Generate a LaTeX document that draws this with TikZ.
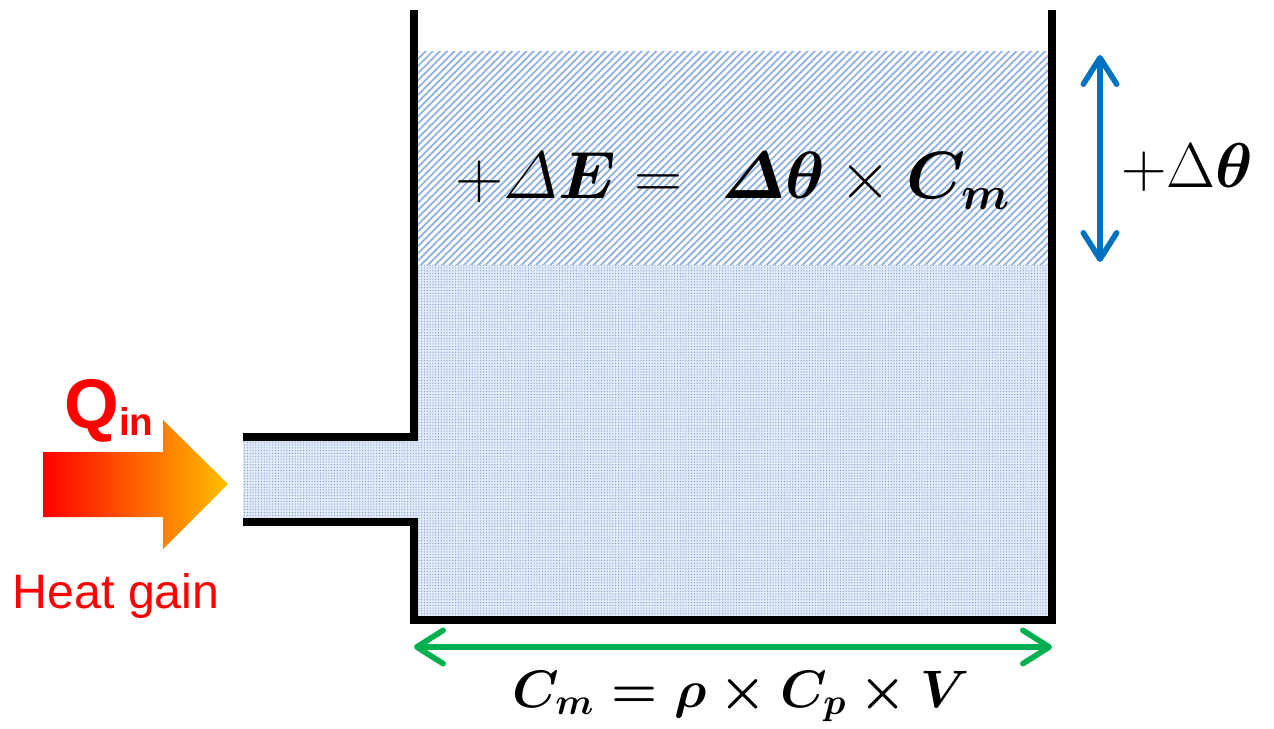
\RequirePackage{fix-cm}
\documentclass[tikz,border=0pt]{standalone}
\usepackage{amsmath}
\usepackage{fontspec}
\newfontfamily\arialfont{Liberation Sans}
\usetikzlibrary{arrows.meta,patterns.meta}
\definecolor{hatchblue}{RGB}{140,176,224}
\definecolor{dotblue}{RGB}{110,150,215}
\definecolor{paleblue}{RGB}{226,234,247}
\definecolor{arrowblue}{RGB}{0,112,192}
\definecolor{arrowgreen}{RGB}{0,176,80}
\definecolor{heatorange}{RGB}{255,192,0}
\definecolor{heatred}{RGB}{255,0,0}
\tikzset{
  wall/.style={line width=4.8pt, black, line join=miter},
  hatchwater/.style={pattern={Lines[angle=45,distance=2.9pt,line width=1pt]}, pattern color=hatchblue},
  dotwater/.style={pattern={Dots[distance=1.6pt,radius=0.35pt]}, pattern color=dotblue},
  dimarrow/.style={line width=3.2pt, {Straight Barb[length=15pt,width=19pt,round]}-{Straight Barb[length=15pt,width=19pt,round]}},
  heattext/.style={text=heatred, font=\arialfont},
}
\begin{document}
\begin{tikzpicture}[x=0.02cm,y=-0.02cm]
\useasboundingbox (0,0) rectangle (1274,729);
% water regions
\fill[white] (414,52) rectangle (1052,265);
\fill[hatchwater] (414,52) rectangle (1052,265);
\fill[paleblue] (414,265) -- (1052,265) -- (1052,620) -- (414,620) -- (414,522) -- (243,522) -- (243,437) -- (414,437) -- cycle;
\fill[dotwater] (414,265) -- (1052,265) -- (1052,620) -- (414,620) -- (414,522) -- (243,522) -- (243,437) -- (414,437) -- cycle;
% walls
\coordinate (pipetop) at (243,437);
\coordinate (walltop) at (414,437);
\coordinate (leftend) at (414,10);
\coordinate (pipebot) at (243,522);
\coordinate (wallbot) at (414,522);
\coordinate (botleft) at (414,620);
\coordinate (botright) at (1052,620);
\coordinate (rightend) at (1052,10);
\draw[wall] (pipetop) -- (walltop) -- (leftend);
\draw[wall] (pipebot) -- (wallbot) -- (botleft) -- (botright) -- (rightend);
% arrows
\coordinate (bluetop) at (1100,55);
\coordinate (bluebot) at (1100,262);
\draw[dimarrow, arrowblue] (bluetop) -- (bluebot);
\coordinate (greenl) at (414,647);
\coordinate (greenr) at (1052,647);
\draw[dimarrow, arrowgreen] (greenl) -- (greenr);
% heat arrow
\shade[left color=heatred, right color=heatorange]
  (43,452) -- (163,452) -- (163,420) -- (228,484) -- (163,549) -- (163,517) -- (43,517) -- cycle;
% texts
\node[anchor=base, inner sep=0pt] (energyeq) at (733,199)
  {\fontsize{38}{42}\selectfont $+\varDelta\boldsymbol{E} =\ \boldsymbol{\varDelta\theta}\times\boldsymbol{C_m}$};
\node[anchor=base west, inner sep=0pt] (dtheta) at (1121,188)
  {\fontsize{36}{40}\selectfont $+\Delta\boldsymbol{\theta}$};
\node[anchor=base, inner sep=0pt] (capeq) at (741,707)
  {\fontsize{30}{34}\selectfont $\boldsymbol{C_m=\rho\times C_p\times V}$};
\node[heattext, anchor=base west, inner sep=0pt] (qin) at (64,428)
  {\bfseries\fontsize{40}{44}\selectfont Q\fontsize{22}{24}\selectfont\raisebox{-4pt}{in}};
\node[heattext, anchor=base, inner sep=0pt] (heatgain) at (116,608)
  {\fontsize{27.5}{30}\selectfont Heat gain};
\end{tikzpicture}
\end{document}
